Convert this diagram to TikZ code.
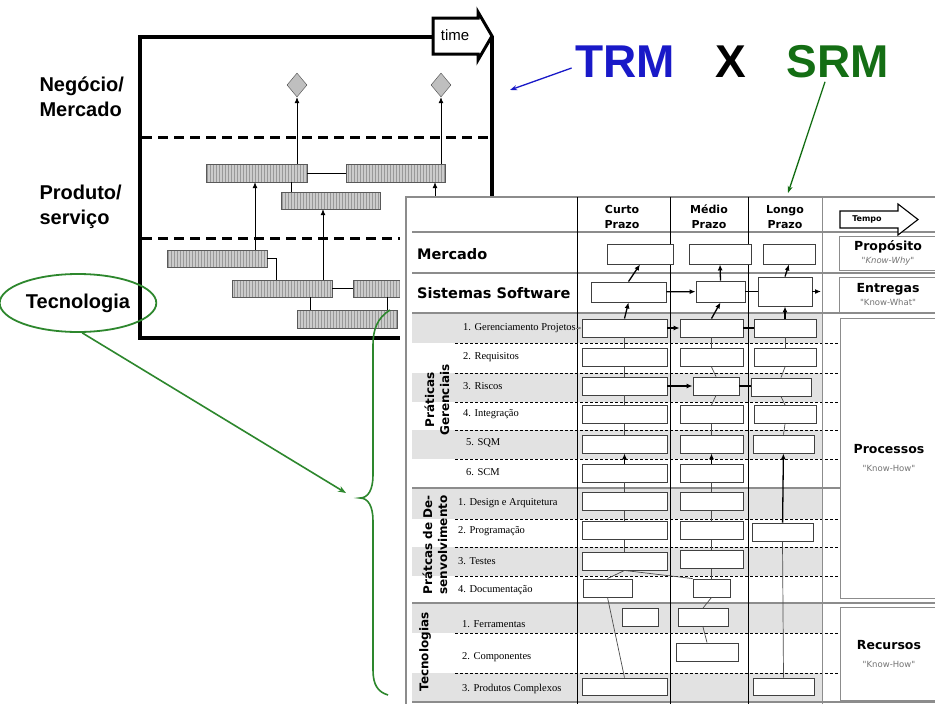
\documentclass[tikz,border=0pt]{standalone}
\usepackage{fontspec}
\setmainfont{Liberation Sans}
\newfontfamily\verd{DejaVu Sans}
\newfontfamily\tnr{Liberation Serif}
\usetikzlibrary{shapes.geometric,patterns,arrows.meta}
\definecolor{trmblue}{RGB}{25,25,200}
\definecolor{srmgreen}{RGB}{20,110,20}
\definecolor{bracegreen}{RGB}{45,135,45}
\definecolor{bandgray}{RGB}{226,226,226}

\begin{document}
\begin{tikzpicture}[x=1pt,y=-1pt,
  bar/.style={draw=black!65,preaction={fill=gray!40},pattern=vertical lines,pattern color=black!40,inner sep=0,minimum height=18,minimum width=#1},
  gem/.style={diamond,draw=black!70,fill=gray!50,inner sep=0,minimum width=20,minimum height=24},
  tip/.style={-{Latex[length=6pt,width=5pt]},line width=0.8pt},
  cell/.style={draw=black!75,fill=white,line width=0.9pt,inner sep=0,minimum height=18,minimum width=#1},
  arr/.style={-{Latex[length=6pt,width=5pt]},line width=1.3pt},
  link/.style={black!70,line width=0.7pt},
  item/.style={anchor=west,inner sep=0,font=\tnr\fontsize{10.5}{12}\selectfont},
  rowlab/.style={anchor=west,inner sep=0,font=\verd\bfseries\fontsize{14.5}{16}\selectfont},
  head/.style={align=center,inner sep=0,font=\verd\bfseries\fontsize{11}{15}\selectfont},
  grp/.style={align=center,inner sep=0,rotate=90,font=\verd\bfseries\fontsize{12}{15}\selectfont},
  side/.style={draw=black!45,fill=white,line width=1pt,align=center,minimum width=98,inner sep=0,font=\verd\fontsize{8.5}{13}\selectfont},
  big/.style={font=\fontsize{46}{46}\selectfont\bfseries}]
  \useasboundingbox (0,0) rectangle (935,704);
  \clip (0,0) rectangle (935,704);
  \fill[white] (0,0) rectangle (935,704);

  \draw[line width=4pt] (433,37) -- (140,37) -- (140,338) -- (492,338) -- (492,36);
  \draw[line width=3pt,fill=white] (433,18) -- (478,18) -- (478,12) -- (492,36) -- (478,60) -- (478,54) -- (433,54) -- cycle;
  \node (time) at (455,35) {\fontsize{15}{15}\selectfont time};
  \draw[line width=3pt,dash pattern=on 10pt off 6pt] (142,137) -- (492,137);
  \draw[line width=3pt,dash pattern=on 10pt off 6pt] (142,238) -- (400,238);

  \node[anchor=west,align=left,font=\fontsize{20}{25}\selectfont\bfseries] (negocio) at (36,97) {Negócio/\\Mercado};
  \node[anchor=west,align=left,font=\fontsize{20}{25}\selectfont\bfseries] (produto) at (36,207) {Produto/\\serviço};
  \node[ellipse,draw=bracegreen,line width=1.8pt,minimum width=136,minimum height=58,font=\fontsize{20}{24}\selectfont\bfseries] (tecno) at (78,303) {Tecnologia};

  \node[gem] (d1) at (297,85) {};
  \node[gem] (d2) at (441,85) {};
  \node[bar=101] (b1) at (256.5,173) {};
  \node[bar=99] (b2) at (395.5,173) {};
  \node[bar=99,minimum height=17] (b3) at (330.5,200.5) {};
  \node[bar=100,minimum height=17] (b4) at (217,258.5) {};
  \node[bar=100,minimum height=17] (b5) at (282,288.5) {};
  \node[bar=67,minimum height=17] (b6) at (386.5,288.5) {};
  \node[bar=100] (b7) at (347,319) {};

  \draw[tip] (b1.north -| d1) -- (d1.south);
  \draw[tip] (b2.north -| d2) -- (d2.south);
  \draw (b1) -- (b2);
  \draw (b1.south -| 291,0) -- (b3.north -| 291,0);
  \draw[tip] (b4.north -| 255,0) -- (b1.south -| 255,0);
  \draw[tip] (b5.north -| 323,0) -- (b3.south -| 323,0);
  \draw (b4.east) -| (b5.north -| 276,0);
  \draw (b5) -- (b6);
  \draw (b5.south -| 310,0) -- (b7.north -| 310,0);
  \draw (b6.south -| 387,0) -- (b7.north -| 387,0);
  \coordinate (hidden) at (435,240);
  \draw[tip] (hidden) -- (b2.south -| hidden);

  \fill[white] (400,197) rectangle (940,710);
  \draw[black!45,line width=1.5pt] (940,197) -- (406,197) -- (406,710);
  \foreach \ya/\yb in {313/343,373/402,430/459,488/519,547/576,603/633,673/702}
    \fill[bandgray] (412,\ya) rectangle (822,\yb);
  \foreach \y in {232,273,313,488,603,702}
    \draw[black!45,line width=1.2pt] (412,\y) -- (935,\y);
  \foreach \y in {343,373,402,430,459,519,547,576,633,673}
    \draw[line width=1pt,dash pattern=on 3pt off 2pt] (455,\y) -- (840,\y);
  \foreach \x in {577,670,748}
    \draw[line width=0.8pt] (\x,197) -- (\x,704);
  \draw[black!45,line width=0.8pt] (822,197) -- (822,704);

  \node[head] (curto) at (622,217) {Curto\\Prazo};
  \node[head] (medio) at (709,217) {Médio\\Prazo};
  \node[head] (longo) at (785,217) {Longo\\Prazo};
  \node[rowlab] (merc) at (417,254) {Mercado};
  \node[rowlab] (sis) at (417,293) {Sistemas Software};
  \node[grp] (pger) at (437,400) {Práticas\\Gerenciais};
  \node[grp] (pdev) at (435,545) {Prátcas de De-\\senvolvimento};
  \node[grp] (ptec) at (425,652) {Tecnologias};

  \node[item] (i1) at (463,328) {1. Gerenciamento Projetos};
  \node[item] (i2) at (463,357) {2. Requisitos};
  \node[item] (i3) at (463,386) {3. Riscos};
  \node[item] (i4) at (463,414) {4. Integração};
  \node[item] (i5) at (466,443) {5. SQM};
  \node[item] (i6) at (466,472) {6. SCM};
  \node[item] (j1) at (458,503) {1. Design e Arquitetura};
  \node[item] (j2) at (458,531) {2. Programação};
  \node[item] (j3) at (458,561) {3. Testes};
  \node[item] (j4) at (458,590) {4. Documentação};
  \node[item] (k1) at (462,624) {1. Ferramentas};
  \node[item] (k2) at (462,657) {2. Componentes};
  \node[item] (k3) at (462,689) {3. Produtos Complexos};

  \node[cell=66,minimum height=20] (mc) at (640,254) {};
  \node[cell=62,minimum height=20] (mm) at (720,254) {};
  \node[cell=52,minimum height=20] (ml) at (789,254) {};
  \node[cell=75,minimum height=20] (sc) at (628.5,292) {};
  \node[cell=49,minimum height=21] (sm) at (720.5,291.5) {};
  \node[cell=54,minimum height=29] (sl) at (785,291.5) {};

  \foreach \r/\y in {1/328,2/357.5,3/386,4/414.5,5/444,6/473}
    \node[cell=85] (gc\r) at (624.5,\y) {};
  \foreach \r/\y in {1/328,2/357.5,4/414.5,5/444,6/473}
    \node[cell=63] (gm\r) at (711.5,\y) {};
  \node[cell=46] (gm3) at (716,386) {};
  \foreach \r/\y in {1/328,2/357.5,4/414.5}
    \node[cell=62] (gl\r) at (785,\y) {};
  \node[cell=60] (gl3) at (781,387) {};
  \node[cell=61] (gl5) at (783.5,444) {};

  \foreach \r/\y in {1/501.5,2/530.5,3/561}
    \node[cell=85] (dc\r) at (624.5,\y) {};
  \node[cell=49] (dc4) at (607.5,588) {};
  \foreach \r/\y in {1/501.5,2/530.5,3/559.5}
    \node[cell=63] (dm\r) at (711.5,\y) {};
  \node[cell=37] (dm4) at (711.5,588) {};
  \node[cell=61] (dl2) at (782.5,532) {};

  \node[cell=36] (tc1) at (640,617) {};
  \node[cell=50] (tm1) at (703,617.5) {};
  \node[cell=62] (tm2) at (707,652) {};
  \node[cell=85,minimum height=17] (tc3) at (624.5,686.5) {};
  \node[cell=61,minimum height=17] (tl3) at (783.5,686.5) {};

  \foreach \p/\q in {gc1/gc2,gc2/gc3,gc3/gc4,gc4/gc5,gc6/dc1,dc1/dc2,dc2/dc3,dc3/dc4,dc4/tc3,
                     gm1/gm2,gm2/gm3,gm3/gm4,gm4/gm5,gm6/dm1,dm1/dm2,dm2/dm3,dm3/dm4,dm4/tm1,tm1/tm2,
                     gl1/gl2,gl2/gl3,gl3/gl4,gl4/gl5,dl2/tl3}
    \draw[link] (\p.south) -- (\q.north);
  \draw[link] (dc3.south) -- (dm4.north west);
  \draw[black!50,-{Latex[length=3pt,width=3pt]}] (i1.east) -- (gc1.west);

  \draw[arr] (sc.north) -- (mc.south);
  \draw[arr] (sm.north) -- (mm.south);
  \draw[arr] (sl.north) -- (ml.south);
  \draw[arr] (gc1.north) -- (sc.south);
  \draw[arr] (gm1.north) -- (sm.south);
  \draw[arr] (gl1.north) -- (sl.south);
  \draw[arr] (sc) -- (sm);
  \draw[line width=1.3pt] (sm) -- (sl);
  \coordinate (sout) at (821,291.5);
  \draw[arr] (sl) -- (sout);
  \draw[arr] (gc1) -- (gm1);
  \draw[line width=1.3pt] (gm1) -- (gl1);
  \draw[arr] (gc3) -- (gm3);
  \draw[line width=1.3pt] (gm3.east) -- (gl3.west |- gm3.east);
  \draw[arr] (gc6) -- (gc5);
  \draw[arr] (gm6) -- (gm5);
  \draw[arr] (dl2) -- (gl5);

  \draw[line width=1.1pt,fill=white] (840,211) -- (898,211) -- (898,204) -- (918,219.5) -- (898,235) -- (898,228) -- (840,228) -- cycle;
  \node (tempo) at (867,219.5) {\verd\bfseries\fontsize{8}{8}\selectfont Tempo};
  \node[side,minimum height=34] (prop) at (888,253) {{\bfseries\fontsize{12.5}{13}\selectfont Propósito}\\{\itshape\color{black!55}"Know-Why"}};
  \node[side,minimum height=35] (entr) at (888,294.5) {{\bfseries\fontsize{12.5}{13}\selectfont Entregas}\\{\color{black!55}"Know-What"}};
  \node[side,minimum height=280] (proc) at (889,458) {{\bfseries\fontsize{12.5}{13}\selectfont Processos}\\[5pt]{\color{black!55}"Know-How"}};
  \node[side,minimum height=93] (recu) at (889,653.5) {{\bfseries\fontsize{12.5}{13}\selectfont Recursos}\\[5pt]{\color{black!55}"Know-How"}};

  \draw[bracegreen,line width=1.6pt] (390,310) .. controls (377,318) and (373,330) .. (373,345) -- (373,475)
    .. controls (373,490) and (368,498) .. (360,498) .. controls (368,498) and (373,506) .. (373,521)
    -- (373,670) .. controls (373,685) and (378,692) .. (388,695);
  \coordinate (bracetip) at (346,493);
  \draw[bracegreen,line width=1.6pt,-{Stealth[length=8pt,width=6pt]}] (tecno.-82) -- (bracetip);

  \node[big,text=trmblue] (trm) at (625,62) {TRM};
  \node[big] (versus) at (731,62) {X};
  \node[big,text=srmgreen] (srm) at (838,62) {SRM};
  \coordinate (trmtip) at (510,90);
  \draw[trmblue,line width=1.3pt,-{Stealth[length=7pt,width=5pt]}] ([yshift=-6pt]trm.west) -- (trmtip);
  \coordinate (srmtip) at (788,193);
  \draw[srmgreen,line width=1.3pt,-{Stealth[length=7pt,width=5pt]}] ([xshift=-13pt]srm.south) -- (srmtip);
\end{tikzpicture}
\end{document}
